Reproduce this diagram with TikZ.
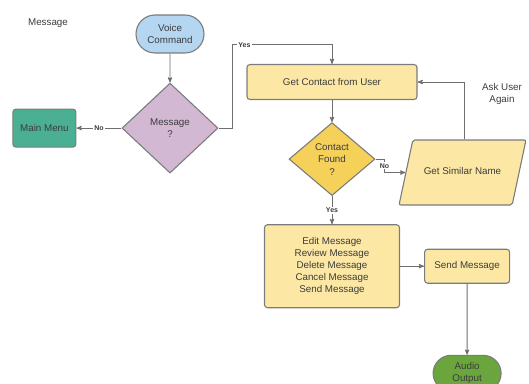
\documentclass[tikz,border=0pt]{standalone}
\usepackage{fontspec}
\setmainfont{Liberation Sans}
\usetikzlibrary{positioning,arrows,shapes.geometric,shapes.misc,calc}

\definecolor{edgegray}{HTML}{6E6E6E}
\definecolor{bordergray}{HTML}{7C7C7C}
\definecolor{textgray}{HTML}{3C3C3C}
\definecolor{voiceblue}{HTML}{B5D6F1}
\definecolor{menuteal}{HTML}{4BAF93}
\definecolor{msgviolet}{HTML}{D3B8D4}
\definecolor{stepyellow}{HTML}{FCE8A4}
\definecolor{askgold}{HTML}{F5D15A}
\definecolor{outgreen}{HTML}{6AA63D}

\tikzset{
>=stealth',
  base/.style={
    draw=bordergray, line width=1.1pt,
    text=textgray,
    font=\fontsize{9.8}{12}\selectfont,
    align=center,
    inner sep=2pt},
  terminal/.style={base, rounded rectangle,
    minimum width=72pt, minimum height=38pt},
  process/.style={base, rectangle, rounded corners=3pt, fill=stepyellow},
  decision/.style={base, diamond, inner sep=0pt},
  inout/.style={base, trapezium,
    trapezium left angle=78, trapezium right angle=102,
    rounded corners=2pt, fill=stepyellow,
    text height=7pt, text depth=2pt,
    inner xsep=11pt, inner ysep=28pt},
  flow/.style={draw=edgegray, line width=0.9pt, ->},
  answer/.style={fill=white, text=textgray, inner sep=1pt,
    font=\fontsize{7}{8}\selectfont\bfseries},
  caption/.style={text=textgray, align=center,
    font=\fontsize{9.8}{12}\selectfont},
}

\begin{document}
\begin{tikzpicture}[x=1pt, y=1pt]
  \useasboundingbox (0,0) rectangle (529,383);
  \node[caption] (title) at (48,360) {Message};
  % left column
  \node[terminal, fill=voiceblue] (voice) at (170,349) {Voice\\Command};
  \node[decision, fill=msgviolet, minimum width=96pt, minimum height=90pt,
    below=29pt of voice] (msg) {Message\\?};
  \node[process, fill=menuteal, minimum width=63pt, minimum height=38pt,
    left=45pt of msg] (menu) {Main Menu};
  % contact lookup
  \node[process, minimum width=170pt, minimum height=35pt] (contact) at (332,301)
    {Get Contact from User};
  \node[decision, fill=askgold, minimum width=86pt, minimum height=73pt,
    font=\fontsize{9.8}{12.5}\selectfont,
    below=22pt of contact] (found) {Contact\\Found\\?};
  \node[inout] (similar) at (462.5,210.5) {Get Similar Name};
  \node[caption] (again) at (502,289) {Ask User\\Again};
  % message actions
  \node[process, minimum width=135pt, minimum height=83pt,
    below=28pt of found] (edit)
    {Edit Message\\Review Message\\Delete Message\\Cancel Message\\Send Message};
  \node[process, minimum width=85pt, minimum height=34pt,
    right=24pt of edit] (send) {Send Message};
  \node[terminal, fill=outgreen, minimum height=36pt,
    below=71pt of send] (audio) {Audio\\Output};

  \draw[flow] (voice) -- (msg);
  \draw[flow] (msg) -- node[answer] {No} (menu);
  \draw[flow] (msg.east) -- ++(14,0)
    |- node[answer, pos=0.56] {Yes} ($(contact.north)+(0,19)$) -- (contact.north);
  \draw[flow] (contact) -- (found);
  \draw[flow] (found.east) -- ++(9,0) |- node[answer, pos=0.25] {No} (similar.west);
  \draw[flow] ([xshift=2pt]similar.north) |- (contact.east);
  \draw[flow] (found) -- node[answer] {Yes} (edit);
  \draw[flow] (edit) -- (send);
  \draw[flow] (send) -- (audio);
\end{tikzpicture}
\end{document}
